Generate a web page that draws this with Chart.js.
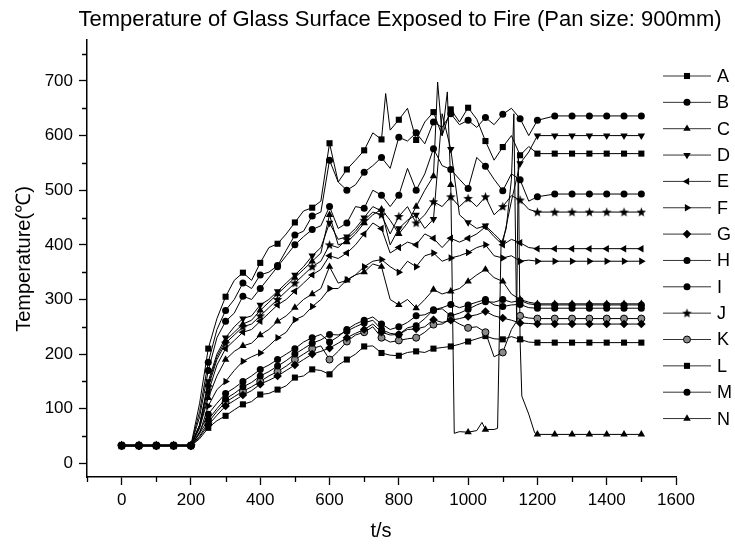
<!DOCTYPE html>
<html>
<head>
<meta charset="utf-8">
<script src="https://cdn.jsdelivr.net/npm/chart.js@4.4.1/dist/chart.umd.min.js"></script>
<style>
  html, body { margin: 0; padding: 0; background: #fff; }
</style>
</head>
<body>
<canvas id="chart" width="735" height="545"></canvas>
<script>
// tick labels
const xLabelTicks = [0, 200, 400, 600, 800, 1000, 1200, 1400, 1600]
const xMinorTicks = [-100, 100, 300, 500, 700, 900, 1100, 1300, 1500]
const yLabelTicks = [0, 100, 200, 300, 400, 500, 600, 700]
const yMinorTicks = [50, 150, 250, 350, 450, 550, 650, 750]

// shared time grid (s)
const times = [0, 50, 100, 150,
  200, 225, 250, 275, 300, 325, 350, 375, 400, 425, 450, 475, 500, 525, 550, 575,
  600, 625, 650, 675, 700, 725, 750, 775, 800, 825, 850, 875, 900, 925, 950, 975,
  1000, 1025, 1050, 1075, 1100, 1125, 1150, 1175, 1200,
  1250, 1300, 1350, 1400, 1450, 1500]

// A has one extra sample for its spike near 760 s
const timesA = [0, 50, 100, 150,
  200, 225, 250, 275, 300, 325, 350, 375, 400, 425, 450, 475, 500, 525, 550, 575,
  600, 625, 650, 675, 700, 725, 750, 762, 775, 800, 825, 850, 875, 900, 925, 950, 975,
  1000, 1025, 1050, 1075, 1100, 1125, 1150, 1175, 1200,
  1250, 1300, 1350, 1400, 1450, 1500]

// N has its own finer samples around the drop and recovery
const timesN = [0, 50, 100, 150,
  200, 225, 250, 275, 300, 325, 350, 375, 400, 425, 450, 475, 500, 525, 550, 575,
  600, 625, 650, 675, 700, 725, 750, 775, 800, 825, 850, 875, 900,
  912, 925, 940, 950, 960, 975, 1000, 1025, 1040, 1050, 1075, 1085, 1095, 1110,
  1125, 1132, 1140, 1145, 1150, 1155, 1175, 1192, 1200,
  1250, 1300, 1350, 1400, 1450, 1500]

const seriesA = [33, 33, 33, 33,
  33, 110, 210, 265, 305, 335, 349, 335, 367, 395, 402, 420, 441, 462, 468, 480,
  586, 515, 538, 555, 573, 605, 593, 677, 610, 629, 650, 592, 625, 643, 600, 648, 625,
  651, 630, 590, 555, 579, 600, 564, 580, 567,
  567, 567, 567, 567, 567, 567]
const seriesB = [33, 33, 33, 33,
  33, 95, 185, 245, 280, 300, 330, 320, 345, 350, 362, 390, 418, 425, 453, 460,
  555, 515, 500, 510, 533, 545, 560, 540, 597, 590, 605, 585, 625, 615, 640, 620,
  628, 615, 633, 620, 639, 650, 631, 600, 628,
  636, 636, 636, 636, 636, 636]
const seriesC = [33, 33, 33, 33,
  33, 65, 120, 160, 190, 205, 215, 220, 235, 245, 260, 270, 285, 300, 310, 320,
  360, 330, 335, 345, 350, 365, 360, 300, 290, 300, 284, 300, 318, 310, 315, 320,
  333, 345, 355, 340, 333, 310, 300, 295, 292,
  292, 292, 292, 292, 292, 292]
const seriesD = [33, 33, 33, 33,
  33, 70, 150, 200, 230, 250, 265, 270, 290, 300, 315, 330, 345, 360, 380, 395,
  440, 410, 415, 430, 450, 470, 462, 400, 430, 445, 455, 430, 447, 640, 575, 455,
  441, 430, 435, 420, 404, 480, 549, 570, 600,
  600, 600, 600, 600, 600, 600]
const seriesE = [33, 33, 33, 33,
  33, 65, 130, 180, 210, 225, 240, 245, 260, 275, 290, 300, 315, 330, 345, 355,
  380, 375, 385, 400, 420, 440, 430, 385, 395, 405, 400, 420, 412, 395, 412, 405,
  412, 420, 433, 415, 400, 410, 404, 395, 393,
  393, 393, 393, 393, 393, 393]
const seriesF = [33, 33, 33, 33,
  33, 55, 105, 135, 150, 170, 187, 195, 202, 215, 230, 240, 263, 270, 287, 300,
  320, 320, 336, 345, 360, 370, 373, 360, 350, 370, 360, 380, 385, 370, 376, 380,
  386, 395, 400, 380, 376, 380, 370, 372, 370,
  370, 370, 370, 370, 370, 370]
const seriesG = [32, 32, 32, 32,
  32, 48, 70, 88, 105, 115, 125, 133, 145, 152, 160, 170, 180, 190, 200, 205,
  211, 220, 230, 238, 245, 255, 240, 235, 236, 245, 246, 250, 263, 258, 262, 265,
  269, 272, 278, 270, 266, 262, 257, 256, 255,
  255, 255, 255, 255, 255, 255]
const seriesH = [33, 33, 33, 33,
  33, 85, 170, 230, 260, 275, 306, 300, 320, 340, 360, 380, 400, 415, 428, 435,
  470, 430, 440, 470, 467, 500, 491, 470, 491, 540, 500, 530, 576, 545, 538, 520,
  503, 560, 544, 520, 499, 530, 519, 480, 488,
  493, 493, 493, 493, 493, 493]
const seriesI = [32, 32, 32, 32,
  32, 55, 80, 100, 118, 128, 140, 148, 160, 168, 178, 188, 200, 210, 220, 226,
  236, 235, 242, 250, 257, 262, 245, 238, 236, 248, 252, 265, 281, 285, 291, 285,
  290, 295, 300, 290, 287, 290, 291, 285, 284,
  284, 284, 284, 284, 284, 284]
const seriesJ = [33, 33, 33, 33,
  33, 70, 140, 190, 220, 235, 250, 255, 270, 285, 300, 315, 330, 345, 360, 370,
  400, 395, 410, 425, 445, 460, 455, 420, 452, 470, 440, 455, 479, 470, 488, 470,
  485, 470, 488, 455, 470, 490, 482, 465, 460,
  460, 460, 460, 460, 460, 460]
const seriesK = [32, 32, 32, 32,
  32, 50, 75, 95, 112, 122, 132, 140, 150, 160, 168, 178, 190, 200, 210, 215,
  190, 205, 223, 235, 240, 250, 230, 222, 225, 228, 230, 240, 254, 255, 264, 255,
  248, 250, 240, 195, 203, 245, 270, 266, 265,
  265, 265, 265, 265, 265, 265]
const seriesL = [32, 32, 32, 32,
  32, 45, 65, 78, 87, 98, 108, 113, 126, 128, 135, 142, 157, 160, 172, 170,
  163, 180, 190, 200, 214, 215, 202, 198, 197, 203, 205, 203, 210, 212, 214, 218,
  223, 228, 233, 228, 227, 232, 227, 222, 221,
  221, 221, 221, 221, 221, 221]
const seriesM = [32, 32, 32, 32,
  32, 58, 90, 110, 128, 138, 150, 160, 172, 180, 190, 200, 210, 222, 230, 236,
  222, 232, 245, 255, 262, 268, 255, 245, 250, 258, 270, 272, 280, 283, 270, 275,
  282, 290, 296, 295, 300, 295, 298, 292, 290,
  290, 290, 290, 290, 290, 290]
const seriesN = [33, 33, 33, 33,
  33, 70, 145, 195, 225, 240, 255, 262, 280, 295, 310, 325, 340, 355, 370, 385,
  455, 400, 405, 420, 440, 455, 465, 445, 420, 440, 470, 500, 526,
  698, 600, 680, 510, 55, 58, 57, 60, 75, 62, 62, 64, 400, 430,
  520, 640, 260, 560, 226, 123, 90, 56, 53,
  53, 53, 53, 53, 53, 53]

// star marker drawn once on a small canvas
const starImg = document.createElement('canvas')
starImg.width = 11; starImg.height = 11
{
  const c = starImg.getContext('2d')
  c.beginPath()
  for (let i = 0; i < 10; i++) {
    const r = i % 2 === 0 ? 5 : 2.1
    const a = -Math.PI / 2 + i * Math.PI / 5
    const px = 5.5 + r * Math.cos(a), py = 5.8 + r * Math.sin(a)
    i === 0 ? c.moveTo(px, py) : c.lineTo(px, py)
  }
  c.closePath()
  c.fillStyle = '#000'
  c.fill()
}

const markerOf = {
  rect: { style: 'rect', rot: 0, r: 4.3 },
  circle: { style: 'circle', rot: 0, r: 3.5 },
  up: { style: 'triangle', rot: 0, r: 4.3 },
  down: { style: 'triangle', rot: 180, r: 4.3 },
  left: { style: 'triangle', rot: -90, r: 4.3 },
  right: { style: 'triangle', rot: 90, r: 4.3 },
  diamond: { style: 'rectRot', rot: 0, r: 4.3 },
  star: { style: starImg, rot: 0, r: 4.5 }
}

const defs = [
  ['A', timesA, seriesA, 'rect'],
  ['B', times, seriesB, 'circle'],
  ['C', times, seriesC, 'up'],
  ['D', times, seriesD, 'down'],
  ['E', times, seriesE, 'left'],
  ['F', times, seriesF, 'right'],
  ['G', times, seriesG, 'diamond'],
  ['H', times, seriesH, 'circle'],
  ['I', times, seriesI, 'circle'],
  ['J', times, seriesJ, 'star'],
  ['K', times, seriesK, 'circle', '#8a8a8a'],
  ['L', times, seriesL, 'rect'],
  ['M', times, seriesM, 'circle'],
  ['N', timesN, seriesN, 'up']
]

const datasets = defs.map(([label, t, vals, mk, fill]) => {
  const m = markerOf[mk]
  return {
    label: label,
    data: t.map((x, i) => ({ x: x, y: vals[i] })),
    borderColor: '#000',
    borderWidth: 1,
    tension: 0,
    pointStyle: m.style,
    pointRotation: m.rot,
    pointRadius: ctx => (ctx.raw && ctx.raw.x % 50 === 0) ? m.r : 0,
    pointBackgroundColor: fill || '#000',
    pointBorderColor: '#000',
    pointBorderWidth: fill ? 1 : 0,
    markerKey: mk,
    markerFill: fill || '#000'
  }
})

const font = "'Liberation Sans', Arial, sans-serif"

const decor = {
  id: 'decor',
  afterDraw(chart) {
    const ctx = chart.ctx, xs = chart.scales.x, ys = chart.scales.y
    const area = chart.chartArea
    ctx.save()
    // minor ticks
    ctx.strokeStyle = '#000'
    ctx.lineWidth = 1.3
    ctx.beginPath()
    xMinorTicks.forEach(v => {
      const px = Math.round(xs.getPixelForValue(v)) + 0.5
      ctx.moveTo(px, area.bottom); ctx.lineTo(px, area.bottom + 5)
    })
    yMinorTicks.forEach(v => {
      const py = Math.round(ys.getPixelForValue(v)) + 0.5
      ctx.moveTo(area.left - 5, py); ctx.lineTo(area.left, py)
    })
    ctx.stroke()

    // titles
    ctx.fillStyle = '#000'
    ctx.textBaseline = 'middle'
    ctx.textAlign = 'center'
    ctx.font = '22px ' + font
    ctx.fillText('Temperature of Glass Surface Exposed to Fire (Pan size: 900mm)', 400, 20)
    ctx.font = '20px ' + font
    ctx.fillText('t/s', 381, 531)
    ctx.save()
    ctx.translate(24, 259)
    ctx.rotate(-Math.PI / 2)
    ctx.fillText('Temperature(\u2103)', 0, 0)
    ctx.restore()

    // legend: line with marker, then label
    ctx.textAlign = 'left'
    ctx.font = '18px ' + font
    chart.data.datasets.forEach((ds, i) => {
      const y = 76 + i * 26.35
      ctx.strokeStyle = '#333'
      ctx.lineWidth = 1
      ctx.beginPath()
      ctx.moveTo(663, y); ctx.lineTo(711, y)
      ctx.stroke()
      const m = markerOf[ds.markerKey]
      ctx.fillStyle = ds.markerFill
      ctx.strokeStyle = '#000'
      Chart.helpers.drawPoint(ctx, {
        pointStyle: m.style, rotation: m.rot, radius: m.r,
        borderWidth: ds.pointBorderWidth
      }, 687, y)
      ctx.fillStyle = '#000'
      ctx.fillText(ds.label, 717, y + 1)
    })
    ctx.restore()
  }
}

new Chart(document.getElementById('chart'), {
  type: 'line',
  data: { datasets: datasets },
  options: {
    responsive: false,
    animation: false,
    events: [],
    layout: { padding: { left: 0, right: 59, top: 40, bottom: 0 } },
    plugins: { legend: { display: false }, tooltip: { enabled: false }, title: { display: false } },
    scales: {
      x: {
        type: 'linear', min: -100, max: 1600,
        afterBuildTicks: s => { s.ticks = xLabelTicks.map(v => ({ value: v })) },
        afterFit: s => { s.height = 68 },
        grid: { drawOnChartArea: false, drawTicks: true, tickLength: 8, tickColor: '#000', tickWidth: 1.3 },
        border: { color: '#000', width: 1.5 },
        ticks: { color: '#000', font: { family: font, size: 17 }, padding: 5, maxRotation: 0, autoSkip: false,
                 callback: v => String(v) }
      },
      y: {
        min: -25, max: 775,
        afterBuildTicks: s => { s.ticks = yLabelTicks.map(v => ({ value: v })) },
        afterFit: s => { s.width = 87 },
        grid: { drawOnChartArea: false, drawTicks: true, tickLength: 8, tickColor: '#000', tickWidth: 1.3 },
        border: { color: '#000', width: 1.5 },
        ticks: { color: '#000', font: { family: font, size: 17 }, padding: 6, callback: v => String(v) }
      }
    }
  },
  plugins: [decor]
})
</script>
</body>
</html>
